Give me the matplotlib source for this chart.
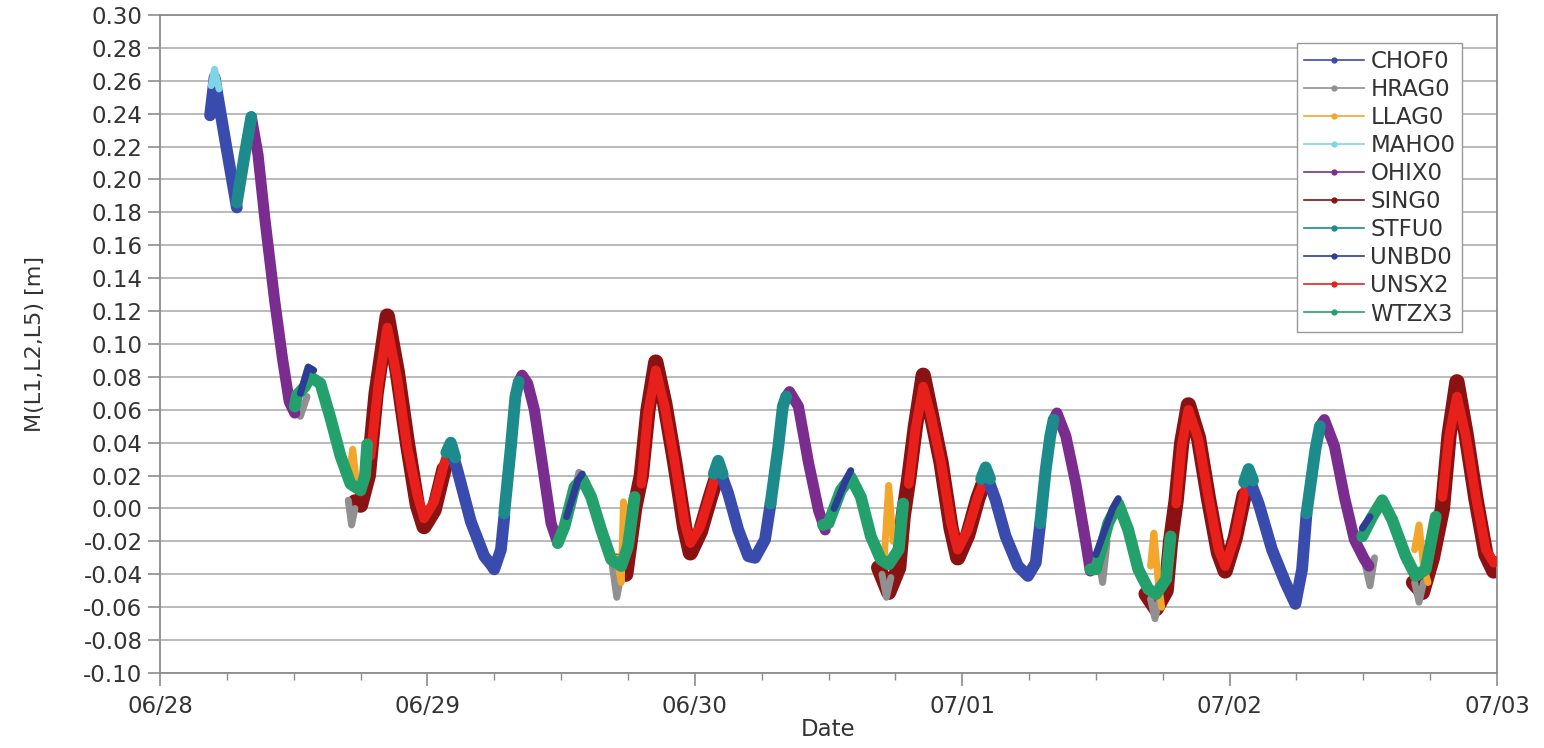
import pandas as pd
import numpy as np
import matplotlib
matplotlib.use('Agg')
import matplotlib.pyplot as plt
import matplotlib.dates as mdates
from matplotlib.lines import Line2D

# hours after 06/28 00:00 and M(L1,L2,L5) in metres
stations = ['CHOF0', 'HRAG0', 'LLAG0', 'MAHO0', 'OHIX0',
            'SING0', 'STFU0', 'UNBD0', 'UNSX2', 'WTZX3']
colors = ['#3a4bae', '#909090', '#f2a62c', '#80d4e8', '#7b2d8f',
          '#8a1212', '#1d8b8b', '#2d3d96', '#e8201c', '#23a06c']

chof0 = [
    [(4.5, 0.239), (4.9, 0.262), (5.9, 0.222), (6.9, 0.183)],
    [(26.1, 0.037), (26.7, 0.023), (27.9, -0.008), (29.1, -0.029), (29.7, -0.034),
     (30.0, -0.037), (30.6, -0.025), (30.9, -0.005)],
    [(50.1, 0.026), (51.0, 0.009), (51.9, -0.013), (52.8, -0.029), (53.4, -0.030),
     (54.3, -0.019), (54.8, 0.003)],
    [(74.1, 0.022), (75.0, 0.005), (75.9, -0.017), (77.0, -0.035), (77.9, -0.041),
     (78.6, -0.033), (79.0, -0.009)],
    [(97.7, 0.019), (98.6, 0.003), (99.8, -0.025), (101.0, -0.045), (101.9, -0.058),
     (102.5, -0.037), (102.9, -0.003)],
]
hrag0 = [
    [(12.2, 0.060), (12.6, 0.056), (13.2, 0.068)],
    [(16.9, 0.005), (17.2, -0.010), (17.5, 0.000)],
    [(36.0, -0.015), (36.6, -0.008), (37.6, 0.022)],
    [(40.6, -0.035), (41.0, -0.054), (41.4, -0.040)],
    [(64.8, -0.040), (65.2, -0.054), (65.6, -0.042)],
    [(84.2, -0.030), (84.6, -0.045), (85.0, -0.020)],
    [(88.9, -0.055), (89.3, -0.067), (89.7, -0.055)],
    [(108.2, -0.035), (108.6, -0.047), (109.0, -0.030)],
    [(112.6, -0.045), (113.0, -0.057), (113.4, -0.045)],
]
llag0 = [
    [(17.0, 0.020), (17.3, 0.036), (17.6, 0.018)],
    [(41.0, -0.030), (41.4, -0.045), (41.6, 0.004), (41.9, -0.010)],
    [(65.0, -0.030), (65.4, 0.014), (65.8, -0.020)],
    [(88.9, -0.035), (89.2, -0.015), (89.6, -0.045), (89.9, -0.060)],
    [(112.6, -0.025), (113.0, -0.010), (113.4, -0.035), (113.8, -0.045)],
]
maho0 = [
    [(4.6, 0.257), (4.9, 0.267), (5.3, 0.255)],
]
ohix0 = [
    [(8.2, 0.238), (8.8, 0.215), (9.4, 0.177), (10.3, 0.126), (11.0, 0.091),
     (11.6, 0.065), (12.1, 0.058)],
    [(32.2, 0.077), (32.5, 0.081), (33.0, 0.076), (33.6, 0.060), (34.3, 0.028),
     (35.1, -0.009), (35.7, -0.021)],
    [(56.2, 0.068), (56.5, 0.071), (57.3, 0.062), (58.2, 0.028), (59.1, -0.001),
     (59.7, -0.013)],
    [(80.2, 0.054), (80.5, 0.058), (81.3, 0.044), (82.2, 0.015), (83.1, -0.021),
     (83.5, -0.038)],
    [(104.1, 0.050), (104.5, 0.054), (105.4, 0.038), (106.3, 0.007), (107.2, -0.019),
     (108.1, -0.031), (108.5, -0.035)],
]
sing0 = [
    [(17.5, 0.004), (18.0, 0.002), (18.7, 0.020), (19.4, 0.070), (20.4, 0.117),
     (21.3, 0.083), (22.2, 0.040), (23.1, 0.002), (23.7, -0.011), (24.6, -0.001),
     (25.5, 0.024)],
    [(41.0, -0.032), (41.8, -0.040), (42.6, 0.000), (43.2, 0.020), (43.8, 0.060),
     (44.5, 0.089), (45.3, 0.064), (46.2, 0.028), (47.1, -0.012), (47.6, -0.027),
     (48.5, -0.014), (49.4, 0.007), (50.1, 0.022)],
    [(64.5, -0.036), (65.4, -0.051), (66.3, -0.036), (66.7, -0.005), (67.2, 0.018),
     (67.8, 0.050), (68.5, 0.081), (69.2, 0.058), (70.1, 0.028), (71.0, -0.012),
     (71.6, -0.030), (72.5, -0.016), (73.4, 0.006), (74.1, 0.019)],
    [(88.5, -0.052), (89.4, -0.061), (90.3, -0.050), (90.7, -0.020), (91.2, 0.005),
     (91.7, 0.040), (92.3, 0.063), (93.2, 0.043), (94.1, 0.006), (95.0, -0.027),
     (95.6, -0.038), (96.5, -0.018), (97.3, 0.008)],
    [(112.5, -0.045), (113.3, -0.051), (114.2, -0.030), (115.1, 0.000), (115.7, 0.045),
     (116.4, 0.077), (117.2, 0.046), (118.1, 0.006), (119.0, -0.028), (119.7, -0.038),
     (120.0, -0.037)],
]
stfu0 = [
    [(6.9, 0.186), (7.6, 0.215), (8.2, 0.238)],
    [(25.7, 0.034), (26.1, 0.040), (26.5, 0.031)],
    [(30.9, -0.003), (31.5, 0.038), (31.9, 0.068), (32.2, 0.077)],
    [(49.7, 0.021), (50.1, 0.029), (50.5, 0.021)],
    [(54.8, 0.003), (55.5, 0.038), (55.9, 0.062), (56.2, 0.068)],
    [(73.7, 0.018), (74.1, 0.025), (74.5, 0.018)],
    [(79.0, -0.009), (79.5, 0.024), (79.9, 0.044), (80.2, 0.054)],
    [(97.3, 0.016), (97.7, 0.024), (98.1, 0.017)],
    [(102.9, -0.003), (103.7, 0.036), (104.1, 0.050)],
]
unbd0 = [
    [(12.6, 0.070), (13.3, 0.086), (13.8, 0.084)],
    [(36.5, -0.005), (37.5, 0.017), (37.9, 0.021)],
    [(60.5, 0.000), (61.6, 0.018), (62.0, 0.023)],
    [(84.0, -0.028), (85.5, 0.000), (86.0, 0.006)],
    [(107.9, -0.012), (108.6, -0.005)],
]
unsx2 = [
    [(18.9, 0.032), (19.6, 0.075), (20.4, 0.110), (21.3, 0.079), (22.2, 0.037),
     (23.1, 0.008), (23.7, -0.006), (24.6, 0.004), (25.5, 0.027), (26.1, 0.039)],
    [(43.2, 0.015), (43.8, 0.058), (44.5, 0.084), (45.3, 0.062), (46.2, 0.028),
     (47.1, -0.009), (47.6, -0.021), (48.5, -0.011), (49.4, 0.009), (50.1, 0.026)],
    [(67.2, 0.015), (67.8, 0.048), (68.5, 0.074), (69.2, 0.056), (70.1, 0.028),
     (71.0, -0.009), (71.6, -0.025), (72.5, -0.013), (73.4, 0.007), (74.1, 0.019)],
    [(91.2, 0.003), (91.7, 0.038), (92.3, 0.060), (93.2, 0.042), (94.1, 0.007),
     (95.0, -0.025), (95.6, -0.035), (96.5, -0.017), (97.3, 0.009), (97.7, 0.019)],
    [(115.1, 0.007), (115.7, 0.044), (116.4, 0.068), (117.2, 0.044), (118.1, 0.007),
     (119.0, -0.025), (119.7, -0.033), (120.0, -0.032)],
]
wtzx3 = [
    [(12.1, 0.062), (12.3, 0.069), (13.0, 0.074), (13.5, 0.080), (14.4, 0.076),
     (15.3, 0.055), (16.2, 0.032), (17.1, 0.015), (18.0, 0.011), (18.4, 0.020),
     (18.6, 0.039)],
    [(35.7, -0.021), (36.3, -0.011), (37.2, 0.013), (37.9, 0.018), (38.7, 0.007),
     (39.6, -0.013), (40.5, -0.031), (41.4, -0.035), (42.0, -0.023), (42.6, 0.007)],
    [(59.5, -0.010), (60.0, -0.009), (61.1, 0.011), (62.0, 0.019), (62.9, 0.007),
     (63.8, -0.017), (64.7, -0.031), (65.4, -0.034), (66.3, -0.025), (66.7, 0.003)],
    [(83.5, -0.037), (84.0, -0.037), (85.1, -0.009), (86.0, 0.003), (86.9, -0.013),
     (87.8, -0.037), (88.7, -0.049), (89.4, -0.052), (90.3, -0.043), (90.7, -0.017)],
    [(107.9, -0.017), (108.8, -0.005), (109.7, 0.005), (110.6, -0.007), (111.8, -0.029),
     (112.7, -0.041), (113.6, -0.037), (114.5, -0.005)],
]

start = pd.Timestamp('2010-06-28')

plt.rcParams['font.family'] = ['DejaVu Sans']
fig = plt.figure(figsize=(15.44, 7.48), dpi=100)
ax = fig.add_axes([0.1036, 0.1003, 0.866, 0.8797])


def draw(segs, color, lw, z):
    for seg in segs:
        h = np.array([p[0] for p in seg])
        v = np.array([p[1] for p in seg])
        t = start + pd.to_timedelta(h, unit='h')
        ax.plot(t, v, color=color, linewidth=lw, zorder=z,
                solid_capstyle='round', solid_joinstyle='round')


# draw order: dark red outline first, the noisy stations under the main traces
draw(sing0, colors[5], 11, 2)
draw(hrag0, colors[1], 5, 2.5)
draw(llag0, colors[2], 5, 2.6)
draw(unsx2, colors[8], 7, 3)
draw(chof0, colors[0], 8.5, 3)
draw(stfu0, colors[6], 8.5, 3.2)
draw(ohix0, colors[4], 8, 3.1)
draw(wtzx3, colors[9], 8.5, 3.3)
draw(unbd0, colors[7], 5, 3.4)
draw(maho0, colors[3], 5, 3.5)

ax.set_xlim(start, start + pd.Timedelta(days=5))
ax.set_ylim(-0.10, 0.30)
ax.set_yticks(np.arange(-0.10, 0.301, 0.02))
ax.yaxis.set_major_formatter(plt.FormatStrFormatter('%.2f'))
ax.xaxis.set_major_locator(mdates.DayLocator())
ax.xaxis.set_minor_locator(mdates.HourLocator(byhour=[6, 12, 18]))
ax.xaxis.set_major_formatter(mdates.DateFormatter('%m/%d'))

ax.grid(axis='y', color='#b4b4b4', linewidth=1.3)
ax.set_axisbelow(True)
for s in ax.spines.values():
    s.set_color('#8c8c8c')
    s.set_linewidth(1.3)
ax.tick_params(axis='both', colors='#8c8c8c', labelcolor='#333333', labelsize=16.5,
               direction='out', length=9, width=1.2)
ax.tick_params(axis='x', which='minor', colors='#8c8c8c', length=5, width=1)
ax.tick_params(axis='x', pad=7)

ax.set_xlabel('Date', fontsize=16.5, color='#333333', labelpad=0)
ax.set_ylabel('M(L1,L2,L5) [m]', fontsize=16, color='#333333')
ax.yaxis.set_label_coords(-0.086, 0.5)

handles = [Line2D([0], [0], color=c, lw=1.2, marker='o', markersize=3.5)
           for c in colors]
leg = ax.legend(handles, stations, loc='upper right', bbox_to_anchor=(0.974, 0.957),
                borderaxespad=0, fontsize=16.5, labelspacing=0.22, handlelength=2.6,
                handletextpad=0.3, fancybox=False, framealpha=1, edgecolor='#999999',
                borderpad=0.3)
for t in leg.get_texts():
    t.set_color('#333333')
leg.set_zorder(10)

fig.savefig('out.png', dpi=100)
